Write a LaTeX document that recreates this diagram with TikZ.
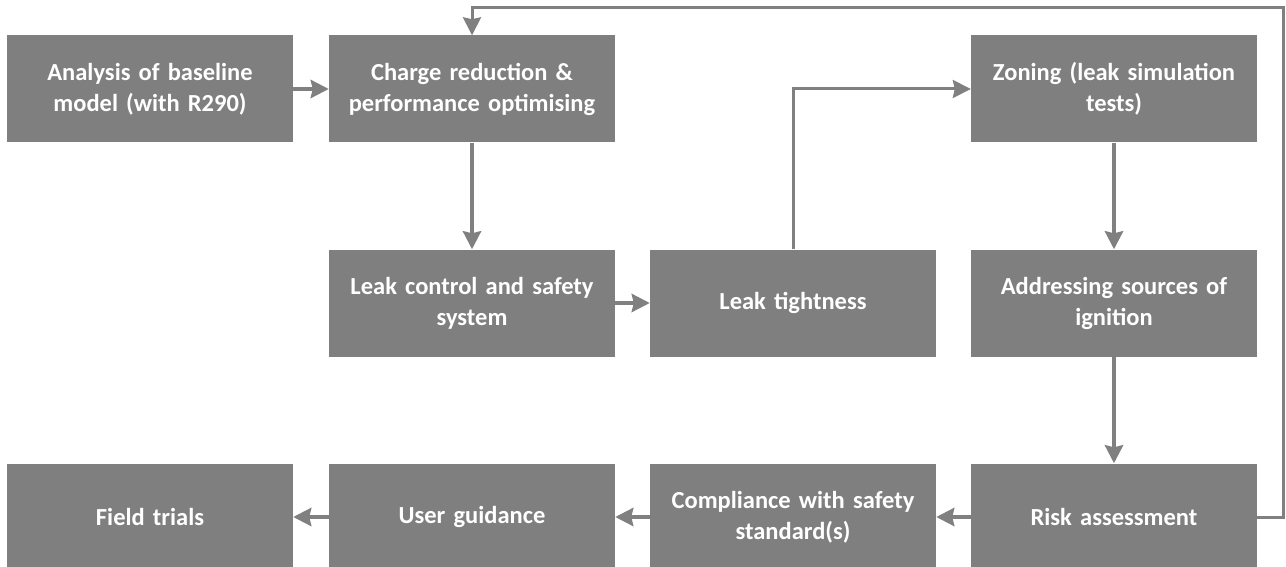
\documentclass[tikz,border=0pt]{standalone}
\usepackage{fontspec}
\setmainfont{Carlito}
\usetikzlibrary{arrows.meta}
\definecolor{boxgray}{HTML}{7F7F7F}
\definecolor{linegray}{HTML}{808080}
\tikzset{
  stepbox/.style={rectangle, fill=boxgray, draw=none, inner sep=0pt,
    minimum width=286pt, minimum height=107pt, text width=270pt, align=center,
    text=white, font=\fontsize{24.5pt}{31pt}\selectfont\bfseries},
  flow/.style={draw=linegray, line width=4pt,
    -{Stealth[length=18pt,width=18pt,inset=2pt]}},
  loop/.style={draw=linegray, line width=3pt,
    -{Stealth[length=18pt,width=18pt,inset=2pt]}},
}
\begin{document}
\begin{tikzpicture}[x=1pt,y=-1pt]
\useasboundingbox (0,0) rectangle (1286,567);
% top row
\node[stepbox] (base) at (150,89) {Analysis of baseline\\model (with R290)};
\node[stepbox] (charge) at (472,89) {Charge reduction \&\\performance optimising};
\node[stepbox] (zone) at (1114,89) {Zoning (leak simulation\\tests)};
% middle row
\node[stepbox] (leakctl) at (472,303) {Leak control and safety\\system};
\node[stepbox] (tight) at (793,303) {Leak tightness};
\node[stepbox] (ignite) at (1114,303) {Addressing sources of\\ignition};
% bottom row
\node[stepbox] (field) at (150,517) {Field trials};
\node[stepbox] (user) at (472,517) {User guidance};
\node[stepbox] (comply) at (793,517) {Compliance with safety\\standard(s)};
\node[stepbox] (risk) at (1114,517) {Risk assessment};
% straight connectors
\draw[flow] (base) -- (charge);
\draw[flow] (charge) -- (leakctl);
\draw[flow] (leakctl) -- (tight);
\draw[flow] (zone) -- (ignite);
\draw[flow] (ignite) -- (risk);
\draw[flow] (risk) -- (comply);
\draw[flow] (comply) -- (user);
\draw[flow] (user) -- (field);
% elbow connectors
\draw[loop] (tight.north) |- (zone.west);
\coordinate (loopcorner) at (1283,8);
\draw[loop] (risk.east) -| (loopcorner) -| (charge.north);
\end{tikzpicture}
\end{document}
